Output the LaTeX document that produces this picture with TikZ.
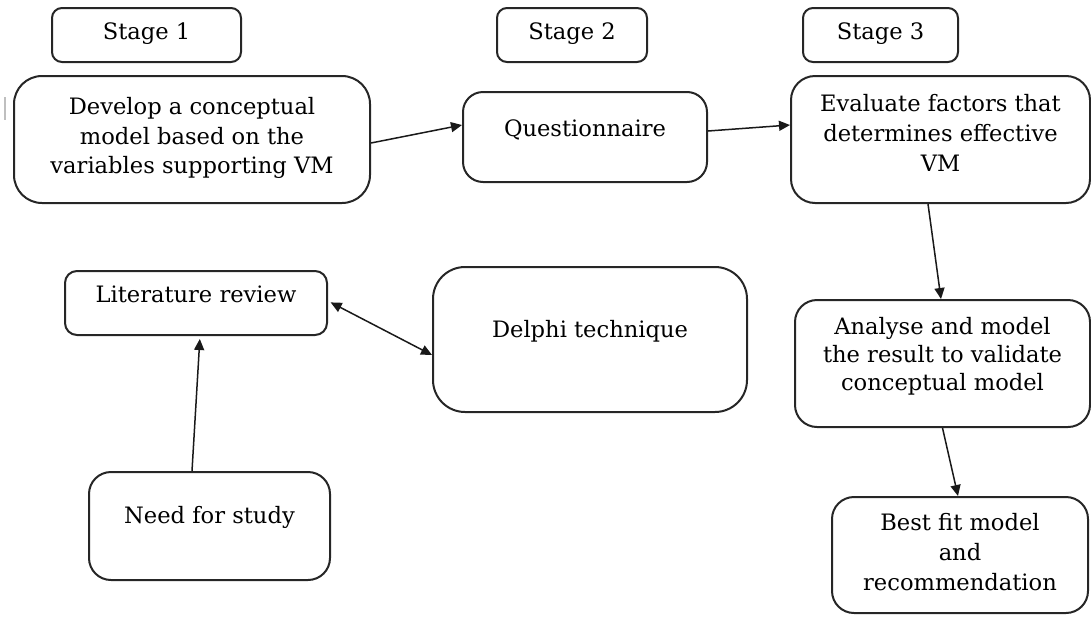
\documentclass[tikz,border=0pt]{standalone}
\usepackage{fontspec}
\setmainfont{DejaVu Serif}
\usetikzlibrary{arrows.meta}

\begin{document}
\begin{tikzpicture}[x=0.5pt,y=-0.5pt,
  box/.style={draw=black!85, line width=1pt, rectangle, inner sep=0pt},
  txt/.style={align=center, font=\fontsize{11.3}{14.8}\selectfont, text=black, inner sep=0pt},
  flow/.style={draw=black!90, line width=0.75pt, -{Triangle[length=5.5pt,width=5pt]}},
  flowboth/.style={draw=black!90, line width=0.75pt, {Triangle[length=5.5pt,width=5pt]}-{Triangle[length=5.5pt,width=5pt]}}
]
\useasboundingbox (0,0) rectangle (1091,616);

% stage headings
\node[box, rounded corners=5pt, minimum width=94.5pt, minimum height=27pt] (s1) at (146.5,35) {};
\node[txt] (s1t) at (146.5,34) {Stage 1};
\node[box, rounded corners=5pt, minimum width=75pt, minimum height=27pt] (s2) at (572,35) {};
\node[txt] (s2t) at (572,34) {Stage 2};
\node[box, rounded corners=5pt, minimum width=77.5pt, minimum height=27pt] (s3) at (880.5,35) {};
\node[txt] (s3t) at (880.5,34) {Stage 3};

% upper row
\node[box, rounded corners=14pt, minimum width=178pt, minimum height=63.5pt] (dev) at (192,139.5) {};
\node[txt] (devt) at (192,138) {Develop a conceptual\\model based on the\\variables supporting VM};

\node[box, rounded corners=10pt, minimum width=122pt, minimum height=45pt] (q) at (585,137) {};
\node[txt] (qt) at (585,130) {Questionnaire};

\node[box, rounded corners=12pt, minimum width=149.5pt, minimum height=63.5pt] (ev) at (940.5,139.5) {};
\node[txt] (evt) at (940.5,133) {Evaluate factors that\\determines effective\\VM};

% left and middle
\node[box, rounded corners=6pt, minimum width=131pt, minimum height=32pt] (lit) at (196,303) {};
\node[txt] (litt) at (196,294) {Literature review};

\node[box, rounded corners=16pt, minimum width=157pt, minimum height=72.5pt] (del) at (590,339.5) {};
\node[txt] (delt) at (590,331) {Delphi technique};

\node[box, rounded corners=11pt, minimum width=120.5pt, minimum height=54pt] (need) at (209.5,526) {};
\node[txt] (needt) at (209.5,517) {Need for study};

% right column
\node[box, rounded corners=11pt, minimum width=147.5pt, minimum height=63.5pt] (ana) at (942.5,363.5) {};
\node[txt, font=\fontsize{11.3}{14.1}\selectfont] (anat) at (942.5,356) {Analyse and model\\the result to validate\\conceptual model};

\node[box, rounded corners=11pt, minimum width=128pt, minimum height=58pt] (best) at (960,555) {};
\node[txt] (bestt) at (960,552) {Best fit model\\and\\recommendation};

% connectors
\draw[flow] ([yshift=-1.75pt]dev.east) -- ([yshift=6pt]q.west);
\draw[flow] ([yshift=3pt]q.east) -- ([yshift=7.25pt]ev.west);
\draw[flow] ([xshift=-6.25pt]ev.south) -- ([xshift=-0.75pt]ana.north);
\draw[flow] (ana.south) -- ([xshift=-1pt]best.north);
\draw[flow, shorten >=1.5pt] ([xshift=-8.75pt]need.north) -- ([xshift=2pt]lit.south);
\draw[flowboth, shorten <=1.5pt] ([yshift=1pt]lit.east) -- ([yshift=-7.75pt]del.west);

% stray margin mark
\draw[black!25, line width=1pt] (5,97) -- (5,120);
\end{tikzpicture}
\end{document}
